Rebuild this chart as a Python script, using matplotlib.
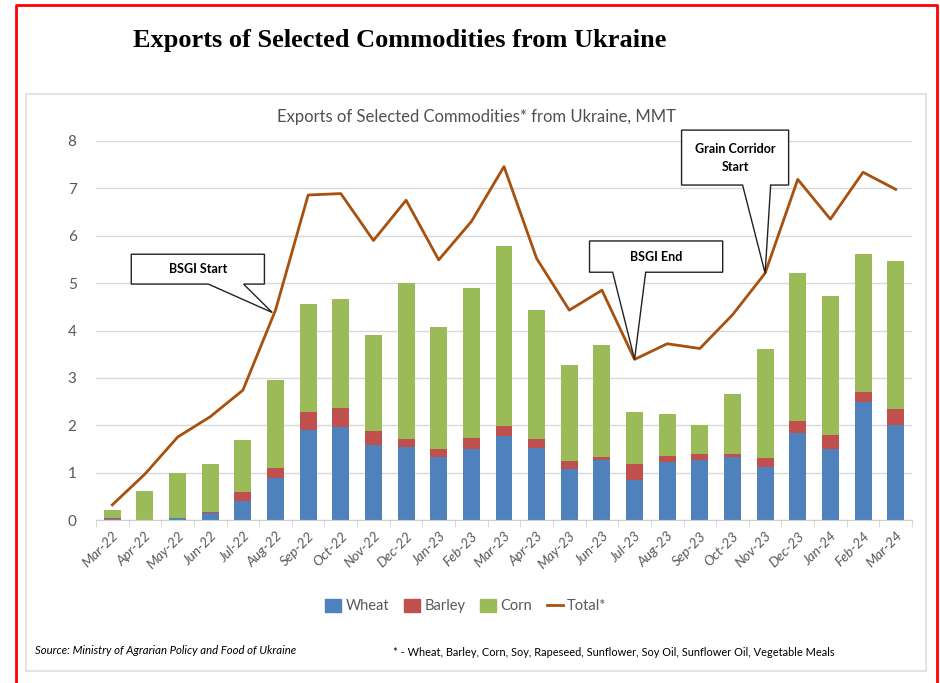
import matplotlib.pyplot as plt
from matplotlib.patches import Polygon, Rectangle, Patch
from matplotlib.lines import Line2D
import numpy as np

months = ["Mar-22", "Apr-22", "May-22", "Jun-22", "Jul-22", "Aug-22", "Sep-22", "Oct-22",
          "Nov-22", "Dec-22", "Jan-23", "Feb-23", "Mar-23", "Apr-23", "May-23", "Jun-23",
          "Jul-23", "Aug-23", "Sep-23", "Oct-23", "Nov-23", "Dec-23", "Jan-24", "Feb-24", "Mar-24"]
wheat = [0.02, 0.0, 0.04, 0.14, 0.40, 0.89, 1.91, 1.97, 1.58, 1.55, 1.32, 1.49, 1.78, 1.53,
         1.08, 1.27, 0.84, 1.22, 1.27, 1.34, 1.11, 1.83, 1.49, 2.50, 2.00]
barley = [0.03, 0.0, 0.01, 0.03, 0.20, 0.21, 0.38, 0.39, 0.29, 0.17, 0.17, 0.25, 0.20, 0.19,
          0.17, 0.07, 0.35, 0.14, 0.12, 0.05, 0.20, 0.26, 0.30, 0.20, 0.34]
corn = [0.16, 0.62, 0.95, 1.01, 1.08, 1.85, 2.27, 2.30, 2.03, 3.28, 2.59, 3.16, 3.81, 2.72,
        2.03, 2.35, 1.09, 0.88, 0.61, 1.28, 2.31, 3.12, 2.94, 2.91, 3.13]
total = [0.32, 0.97, 1.75, 2.18, 2.74, 4.43, 6.86, 6.89, 5.90, 6.75, 5.49, 6.30, 7.46, 5.52,
         4.43, 4.85, 3.39, 3.72, 3.62, 4.33, 5.21, 7.19, 6.35, 7.34, 6.98]

c_wheat = "#4F81BD"
c_barley = "#C0504D"
c_corn = "#9BBB59"
c_total = "#A8500E"
gray = "#595959"

plt.rcParams["font.family"] = ["Lato", "DejaVu Sans"]

fig = plt.figure(figsize=(9.4, 6.83), dpi=100)
fig.patch.set_facecolor("white")

# outer red border (open at bottom) and inner gray chart frame
fig.add_artist(Line2D([16/940, 16/940, 937/940, 937/940], [0, 1 - 5/683, 1 - 5/683, 0],
                      transform=fig.transFigure, color="red", lw=2))
fig.add_artist(Rectangle((26/940, 1 - 671/683), 900/940, 577/683, transform=fig.transFigure,
                         facecolor="none", edgecolor="#E3E3E3", lw=1.5))

fig.text(400/940, 1 - 40/683, "Exports of Selected Commodities from Ukraine",
         family="Liberation Serif", fontweight="bold", fontsize=19, ha="center", va="center")

ax = fig.add_axes([96/940, 1 - 520/683, 816/940, 379/683])
x = np.arange(len(months))
w = 0.52
wheat = np.array(wheat)
barley = np.array(barley)
corn = np.array(corn)
ax.bar(x, wheat, w, color=c_wheat, zorder=2)
ax.bar(x, barley, w, bottom=wheat, color=c_barley, zorder=2)
ax.bar(x, corn, w, bottom=wheat + barley, color=c_corn, zorder=2)
ax.plot(x, total, color=c_total, lw=2, zorder=3)

ax.set_xlim(-0.5, len(months) - 0.5)
ax.set_ylim(0, 8)
ax.set_yticks(range(9))
ax.grid(axis="y", color="#D9D9D9", lw=1, zorder=0)
for s in ["top", "right", "left"]:
    ax.spines[s].set_visible(False)
ax.spines["bottom"].set_color("#D0D0D0")
ax.tick_params(axis="y", length=0, labelsize=11, labelcolor=gray, pad=14)
ax.set_xticks(x)
ax.set_xticklabels(months, rotation=45, ha="right", rotation_mode="anchor",
                   fontsize=10, color=gray, fontstyle="italic")
ax.tick_params(axis="x", which="major", length=0, pad=7)
ax.set_xticks(np.arange(-0.5, len(months), 1), minor=True)
ax.tick_params(axis="x", which="minor", length=5, color="#D0D0D0")

ax.set_title("Exports of Selected Commodities* from Ukraine, MMT", fontsize=12,
             color="#505050", pad=14, x=0.466)


def callout(x0, x1, y0, y1, b0, b1, tip, label):
    pts = [(x0, y1), (x1, y1), (x1, y0), (b1, y0), tip, (b0, y0), (x0, y0)]
    ax.add_patch(Polygon(pts, closed=True, facecolor="white", edgecolor="#222222",
                         lw=1, zorder=5, clip_on=False))
    ax.text((x0 + x1) / 2, (y0 + y1) / 2, label, ha="center", va="center", fontsize=9,
            fontweight="bold", zorder=6, linespacing=1.6)


callout(0.58, 4.66, 4.98, 5.61, 2.94, 4.02, (4.9, 4.38), "BSGI Start")
callout(14.62, 18.70, 5.23, 5.89, 15.33, 16.34, (16, total[16]), "BSGI End")
callout(17.44, 20.72, 7.07, 8.23, 19.31, 20.17, (20, total[20]), "Grain Corridor\nStart")

handles = [Patch(color=c_wheat), Patch(color=c_barley), Patch(color=c_corn),
           Line2D([], [], color=c_total, lw=2)]
fig.legend(handles, ["Wheat", "Barley", "Corn", "Total*"], loc="center", ncol=4,
           bbox_to_anchor=(466/940, 1 - 606/683), frameon=False, fontsize=10.5,
           labelcolor=gray, handlelength=1.1, handleheight=1.0, handletextpad=0.3,
           columnspacing=1.0)

fig.text(35/940, 1 - 650/683, "Source: Ministry of Agrarian Policy and Food of Ukraine",
         fontsize=8.2, fontstyle="italic", va="center")
fig.text(393/940, 1 - 653/683,
         "* - Wheat, Barley, Corn, Soy, Rapeseed, Sunflower, Soy Oil, Sunflower Oil, Vegetable Meals",
         fontsize=7.9, va="center")

fig.savefig("out.png", dpi=100)
